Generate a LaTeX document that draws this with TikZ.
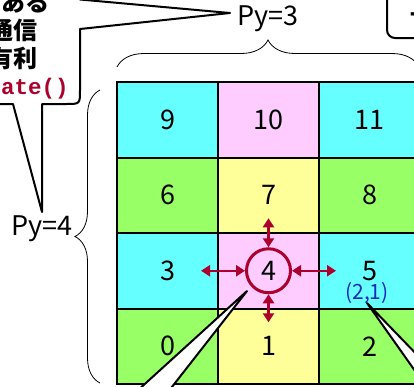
\documentclass[tikz,border=0pt]{standalone}
\usepackage{fontspec}
\setmainfont{Noto Sans CJK JP}
\setmonofont{Liberation Mono}
\usepackage{tikz}
\usetikzlibrary{calc, positioning, arrows.meta, decorations.pathreplacing}
\definecolor{cellC}{RGB}{102, 255, 255}
\definecolor{cellP}{RGB}{255, 204, 255}
\definecolor{cellG}{RGB}{153, 255, 102}
\definecolor{cellY}{RGB}{255, 255, 153}
\definecolor{accred}{RGB}{172, 0, 45}
\definecolor{crdblue}{RGB}{25, 40, 190}

\begin{document}
\begin{tikzpicture}[x=1pt, y=-1pt, font=\fontsize{27}{30}\selectfont,
  cell/.style={draw, line width=2pt, minimum width=101pt, minimum height=75.5pt, inner sep=0pt},
  nbr/.style={draw=accred, line width=2.5pt, {Triangle[width=11pt,length=9pt]}-{Triangle[width=11pt,length=9pt]}},
  callout/.style={draw, fill=white, line width=2pt, line join=round},
  bracket/.style={decorate, decoration={brace, amplitude=#1}, line width=0.8pt}]
  \useasboundingbox (0,0) rectangle (414,386);
  \clip (0,0) rectangle (414,386);
  % 3x4 process grid
  \foreach \r/\ca/\cb in {0/cellG/cellY, 1/cellC/cellP, 2/cellG/cellY, 3/cellC/cellP} {
    \foreach \c/\cc in {0/\ca, 1/\cb, 2/\ca} {
      \pgfmathtruncatemacro\k{3*\r+\c}
      \node[cell, fill=\cc] (n\k) at ({167.5+101*\c}, {346.25-75.5*\r}) {\k};
    }
  }
  % neighbours of rank 4
  \node[draw=accred, circle, line width=3pt, minimum size=44pt, inner sep=0pt] (c4) at (n4.center) {};
  \coordinate (w) at ([xshift=-44pt]c4.west);
  \coordinate (e) at ([xshift=44pt]c4.east);
  \coordinate (u) at ([yshift=29pt]c4.north);
  \coordinate (d) at ([yshift=-28pt]c4.south);
  \draw[nbr] (c4.west) -- (w);
  \draw[nbr] (c4.east) -- (e);
  \draw[nbr] (c4.north) -- (u);
  \draw[nbr] (c4.south) -- (d);
  \node[text=crdblue, font=\fontsize{21}{24}\selectfont] (crd) at (367,293) {(2,1)};
  % braces
  \draw[bracket=27pt] (117,67) -- (419,67);
  \draw[bracket=25pt] (100,383) -- (100,90);
  \node (py3) at (268,19) {Py=3};
  \node (py4) at (42,229) {Py=4};
  % callouts
  \filldraw[callout] (-100,104) -- (13,104) -- (42,212) -- (42,104) -- (66,104)
    .. controls (80,104) .. (80,90) -- (80,29) -- (230,13) -- (80,-0.5) -- (80,-40) -- (-100,-40) -- cycle;
  \node[align=center, font=\bfseries\fontsize{24}{28}\selectfont] (note) at (-46,45)
    {互いに近くにある\\ランク間の通信\\をするのに有利\\[-1pt]
     {\ttfamily\color{accred}\fontsize{22.5}{24}\selectfont MPI\_Cart\_create()}};
  \filldraw[callout, rounded corners=8pt] (387,-20) rectangle (440,38);
  \node[anchor=west, inner sep=0pt, font=\bfseries\fontsize{21}{24}\selectfont] (tr) at (410,18) {一};
  \filldraw[callout] (247,291) -- (136,392) -- (168,392) -- cycle;
  \filldraw[callout] (367,303) -- (425,363) -- (425,385) -- cycle;
\end{tikzpicture}
\end{document}
